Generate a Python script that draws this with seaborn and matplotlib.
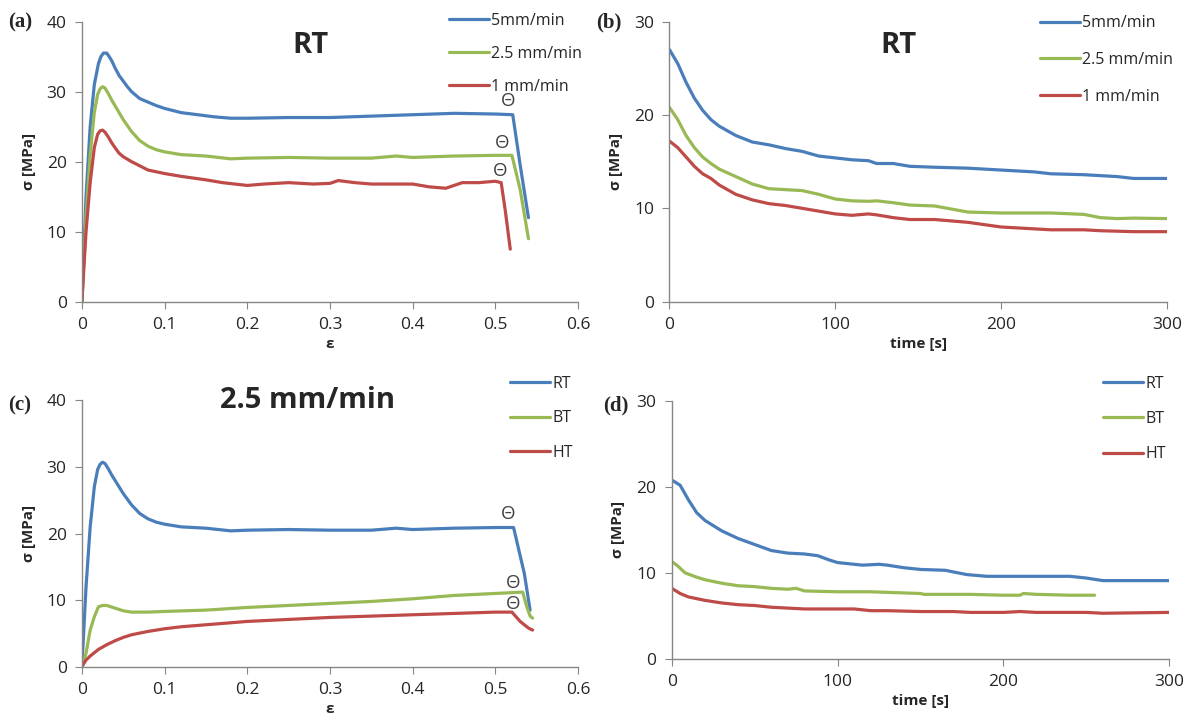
import matplotlib
matplotlib.use("Agg")
import matplotlib.pyplot as plt
import seaborn as sns
import pandas as pd

# ---- data ----
# (a) stress-strain at RT, three crosshead speeds
eps_a_5 = [0, 0.005, 0.01, 0.015, 0.02, 0.023, 0.026, 0.03, 0.033, 0.037, 0.04, 0.045, 0.05, 0.055,
           0.06, 0.07, 0.08, 0.09, 0.1, 0.12, 0.14, 0.16, 0.18, 0.2, 0.25, 0.3, 0.35, 0.4, 0.45,
           0.5, 0.521, 0.53, 0.54]
sig_a_5 = [0, 15, 25, 31, 34, 35.0, 35.5, 35.5, 35.0, 34.2, 33.4, 32.3, 31.5, 30.7,
           30.0, 29.0, 28.5, 28.0, 27.6, 27.0, 26.7, 26.4, 26.2, 26.2, 26.3, 26.3, 26.5, 26.7, 26.9,
           26.8, 26.7, 19.5, 12]
eps_a_25 = [0, 0.005, 0.01, 0.015, 0.019, 0.022, 0.025, 0.028, 0.032, 0.036, 0.04, 0.045, 0.05,
            0.06, 0.07, 0.08, 0.09, 0.1, 0.12, 0.15, 0.18, 0.2, 0.25, 0.3, 0.35, 0.38, 0.4, 0.45,
            0.5, 0.52, 0.53, 0.54]
sig_a_25 = [0, 12, 21, 27, 29.6, 30.4, 30.7, 30.5, 29.7, 28.8, 28.0, 27.0, 26.0,
            24.3, 23.0, 22.2, 21.7, 21.4, 21.0, 20.8, 20.4, 20.5, 20.6, 20.5, 20.5, 20.8, 20.6, 20.8,
            20.9, 20.9, 16, 9]
eps_a_1 = [0, 0.005, 0.01, 0.015, 0.019, 0.022, 0.025, 0.028, 0.032, 0.036, 0.04, 0.045, 0.05,
           0.06, 0.08, 0.1, 0.12, 0.15, 0.17, 0.2, 0.22, 0.25, 0.28, 0.3, 0.31, 0.33, 0.35, 0.4,
           0.42, 0.44, 0.46, 0.48, 0.5, 0.507, 0.512, 0.518]
sig_a_1 = [0, 10, 17, 22, 23.9, 24.4, 24.5, 24.2, 23.5, 22.7, 22.0, 21.2, 20.7,
           20.0, 18.8, 18.3, 17.9, 17.4, 17.0, 16.6, 16.8, 17.0, 16.8, 16.9, 17.3, 17.0, 16.8, 16.8,
           16.4, 16.2, 17.0, 17.0, 17.2, 17.0, 13, 7.5]

# (b) relaxation at RT
t_b = [0, 5, 10, 15, 20, 25, 30, 40, 50, 60, 70, 80, 90, 100, 110, 120, 125, 135, 145, 160,
       180, 200, 220, 230, 250, 260, 270, 280, 300]
sig_b_5 = [27, 25.5, 23.5, 21.8, 20.5, 19.5, 18.8, 17.8, 17.1, 16.8, 16.4, 16.1, 15.6, 15.4,
           15.2, 15.1, 14.8, 14.8, 14.5, 14.4, 14.3, 14.1, 13.9, 13.7, 13.6, 13.5, 13.4, 13.2, 13.2]
sig_b_25 = [20.8, 19.5, 17.8, 16.5, 15.5, 14.8, 14.2, 13.4, 12.6, 12.1, 12.0, 11.9, 11.5, 11.0,
            10.8, 10.75, 10.8, 10.6, 10.35, 10.25, 9.6, 9.5, 9.5, 9.5, 9.35, 9.0, 8.9, 8.95, 8.9]
sig_b_1 = [17.2, 16.5, 15.5, 14.5, 13.7, 13.2, 12.5, 11.5, 10.9, 10.5, 10.3, 10.0, 9.7, 9.4,
           9.25, 9.4, 9.3, 9.0, 8.8, 8.8, 8.5, 8.0, 7.8, 7.7, 7.7, 7.6, 7.55, 7.5, 7.5]

# (c) stress-strain at 2.5 mm/min, three temperatures
eps_c_rt = [0, 0.005, 0.01, 0.015, 0.019, 0.022, 0.025, 0.028, 0.032, 0.036, 0.04, 0.045, 0.05,
            0.06, 0.07, 0.08, 0.09, 0.1, 0.12, 0.15, 0.18, 0.2, 0.25, 0.3, 0.35, 0.38, 0.4, 0.45,
            0.5, 0.522, 0.535, 0.542]
sig_c_rt = [0, 12, 21, 27, 29.6, 30.4, 30.7, 30.5, 29.7, 28.8, 28.0, 27.0, 26.0,
            24.3, 23.0, 22.2, 21.7, 21.4, 21.0, 20.8, 20.4, 20.5, 20.6, 20.5, 20.5, 20.8, 20.6, 20.8,
            20.9, 20.9, 14, 8.5]
eps_c_bt = [0, 0.005, 0.01, 0.015, 0.02, 0.025, 0.03, 0.04, 0.05, 0.06, 0.08, 0.1, 0.15, 0.2,
            0.25, 0.3, 0.35, 0.4, 0.45, 0.5, 0.533, 0.538, 0.542, 0.545]
sig_c_bt = [0, 2, 5.5, 7.5, 9.0, 9.2, 9.2, 8.8, 8.4, 8.2, 8.2, 8.3, 8.5, 8.9,
            9.2, 9.5, 9.8, 10.2, 10.7, 11.0, 11.2, 9.0, 7.6, 7.3]
eps_c_ht = [0, 0.005, 0.01, 0.02, 0.03, 0.04, 0.05, 0.06, 0.08, 0.1, 0.12, 0.15, 0.18, 0.2,
            0.25, 0.3, 0.35, 0.4, 0.45, 0.5, 0.52, 0.53, 0.54, 0.545]
sig_c_ht = [0, 1.0, 1.6, 2.6, 3.3, 3.9, 4.4, 4.8, 5.3, 5.7, 6.0, 6.3, 6.6, 6.8,
            7.1, 7.4, 7.6, 7.8, 8.0, 8.2, 8.2, 6.8, 5.8, 5.5]

# (d) relaxation at 2.5 mm/min
t_d_rt = [0, 5, 10, 15, 20, 30, 40, 50, 60, 70, 80, 88, 95, 100, 110, 115, 125, 130, 140, 150,
          165, 170, 178, 190, 210, 240, 250, 260, 270, 300]
sig_d_rt = [20.8, 20.2, 18.5, 17.0, 16.1, 14.9, 14.0, 13.3, 12.6, 12.3, 12.2, 12.0, 11.5, 11.2,
            11.0, 10.9, 11.0, 10.9, 10.6, 10.4, 10.3, 10.1, 9.8, 9.6, 9.6, 9.6, 9.4, 9.1, 9.1, 9.1]
t_d_bt = [0, 3, 8, 15, 20, 30, 40, 50, 60, 70, 75, 80, 100, 120, 150, 152, 180, 200, 210, 212,
          220, 240, 255]
sig_d_bt = [11.3, 10.9, 10.0, 9.5, 9.2, 8.8, 8.5, 8.4, 8.2, 8.1, 8.2, 7.9, 7.8, 7.8, 7.6, 7.5,
            7.5, 7.4, 7.4, 7.6, 7.5, 7.4, 7.4]
t_d_ht = [0, 5, 10, 20, 30, 40, 50, 60, 70, 80, 90, 100, 110, 120, 130, 150, 170, 180, 200,
          210, 220, 250, 260, 300]
sig_d_ht = [8.2, 7.6, 7.2, 6.8, 6.5, 6.3, 6.2, 6.0, 5.9, 5.8, 5.8, 5.8, 5.8, 5.6, 5.6, 5.5,
            5.5, 5.4, 5.4, 5.5, 5.4, 5.4, 5.3, 5.4]

speed_labels = ["5mm/min", "2.5 mm/min", "1 mm/min"]
temp_labels = ["RT", "BT", "HT"]
# fracture markers (strain, stress)
theta_a = [(0.515, 28.6), (0.508, 22.7), (0.506, 18.7)]
theta_c = [(0.515, 22.9), (0.522, 12.6), (0.521, 9.4)]

colors = ["#4A7EBB", "#98B954", "#BE4B48"]
gray = "#868686"

sns.set_style("white")
plt.rcParams["font.family"] = ["Open Sans", "DejaVu Sans"]

fig = plt.figure(figsize=(11.87, 7.2), dpi=100)
ax_a = fig.add_axes([0.069, 0.581, 0.418, 0.389])
ax_b = fig.add_axes([0.564, 0.581, 0.419, 0.389])
ax_c = fig.add_axes([0.069, 0.074, 0.418, 0.370])
ax_d = fig.add_axes([0.566, 0.085, 0.419, 0.358])


def draw(ax, xs, ys, labels):
    for x, y, lab, c in zip(xs, ys, labels, colors):
        df = pd.DataFrame({"x": x, "y": y})
        sns.lineplot(data=df, x="x", y="y", ax=ax, color=c, lw=2.3, label=lab,
                     estimator=None, sort=False)


def style(ax, xlim, xticks, xticklabels, ylim, yticks, xlabel):
    ax.set_xlim(*xlim)
    ax.set_ylim(*ylim)
    ax.set_xticks(xticks)
    ax.set_xticklabels(xticklabels)
    ax.set_yticks(yticks)
    for s in ["top", "right"]:
        ax.spines[s].set_visible(False)
    for s in ["left", "bottom"]:
        ax.spines[s].set_color(gray)
        ax.spines[s].set_linewidth(1.0)
    ax.tick_params(axis="both", direction="out", length=5, color=gray, labelsize=12.5,
                   bottom=True, left=True, pad=6)
    ax.set_xlabel(xlabel, fontsize=11, fontweight="bold", labelpad=3)
    ax.set_ylabel("σ [MPa]", fontsize=11, fontweight="bold", labelpad=8)


def legend(ax, x, y, spacing):
    ax.legend(loc="upper left", bbox_to_anchor=(x, y), bbox_transform=fig.transFigure,
              frameon=False, handlelength=2.5, handletextpad=0.15, labelspacing=spacing,
              fontsize=11.5, borderaxespad=0, borderpad=0)


strain_ticks = [0, 0.1, 0.2, 0.3, 0.4, 0.5, 0.6]
strain_labels = ["0", "0.1", "0.2", "0.3", "0.4", "0.5", "0.6"]
time_ticks = [0, 100, 200, 300]

draw(ax_a, [eps_a_5, eps_a_25, eps_a_1], [sig_a_5, sig_a_25, sig_a_1], speed_labels)
style(ax_a, (0, 0.6), strain_ticks, strain_labels, (0, 40), [0, 10, 20, 30, 40], "ε")
legend(ax_a, 0.378, 0.982, 1.05)
ax_a.text(0.46, 0.915, "RT", transform=ax_a.transAxes, ha="center", va="center",
          fontsize=21, fontweight="bold")
for x, y in theta_a:
    ax_a.text(x, y, "Θ", ha="center", va="center", fontsize=13.5, color="#404040")

draw(ax_b, [t_b, t_b, t_b], [sig_b_5, sig_b_25, sig_b_1], speed_labels)
style(ax_b, (0, 300), time_ticks, [str(v) for v in time_ticks], (0, 30), [0, 10, 20, 30], "time [s]")
legend(ax_b, 0.876, 0.979, 1.3)
ax_b.text(0.46, 0.915, "RT", transform=ax_b.transAxes, ha="center", va="center",
          fontsize=21, fontweight="bold")

draw(ax_c, [eps_c_rt, eps_c_bt, eps_c_ht], [sig_c_rt, sig_c_bt, sig_c_ht], temp_labels)
style(ax_c, (0, 0.6), strain_ticks, strain_labels, (0, 40), [0, 10, 20, 30, 40], "ε")
legend(ax_c, 0.430, 0.478, 1.15)
ax_c.text(0.455, 1.0, "2.5 mm/min", transform=ax_c.transAxes, ha="center", va="center",
          fontsize=21, fontweight="bold")
for x, y in theta_c:
    ax_c.text(x, y, "Θ", ha="center", va="center", fontsize=13.5, color="#404040")

draw(ax_d, [t_d_rt, t_d_bt, t_d_ht], [sig_d_rt, sig_d_bt, sig_d_ht], temp_labels)
style(ax_d, (0, 300), time_ticks, [str(v) for v in time_ticks], (0, 30), [0, 10, 20, 30], "time [s]")
legend(ax_d, 0.929, 0.478, 1.2)

# panel letters
for lab, x, y in [("(a)", 0.007, 0.969), ("(b)", 0.502, 0.969), ("(c)", 0.007, 0.437),
                  ("(d)", 0.508, 0.437)]:
    fig.text(x, y, lab, ha="left", va="center", fontsize=15, fontweight="bold",
             family=["Liberation Serif", "DejaVu Serif"])

fig.savefig("out.png", dpi=100)
